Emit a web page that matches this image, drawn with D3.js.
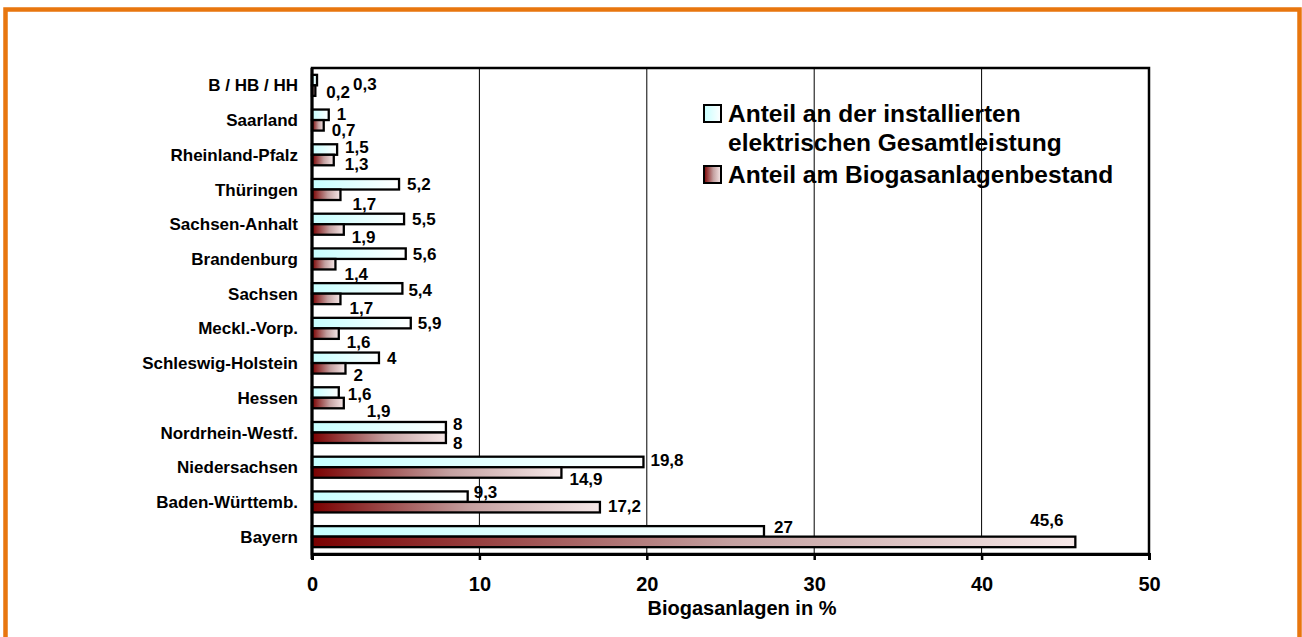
<!DOCTYPE html>
<html>
<head>
<meta charset="utf-8">
<script src="https://cdn.jsdelivr.net/npm/d3@7"></script>
<style>
  html, body { margin: 0; padding: 0; background: #fff; }
  svg { display: block; }
  text { font-family: "Liberation Sans", Arial, sans-serif; font-weight: bold; fill: #000; }
</style>
</head>
<body>
<svg id="chart" width="1302" height="637"></svg>
<script>
// Federal states (top to bottom)
const categories = [
  "B / HB / HH", "Saarland", "Rheinland-Pfalz", "Thüringen", "Sachsen-Anhalt",
  "Brandenburg", "Sachsen", "Meckl.-Vorp.", "Schleswig-Holstein", "Hessen",
  "Nordrhein-Westf.", "Niedersachsen", "Baden-Württemb.", "Bayern"
];
// Share of installed electrical capacity (%)
const shareCapacity = [0.3, 1, 1.5, 5.2, 5.5, 5.6, 5.4, 5.9, 4, 1.6, 8, 19.8, 9.3, 27];
// Share of the number of biogas plants (%)
const sharePlants = [0.2, 0.7, 1.3, 1.7, 1.9, 1.4, 1.7, 1.6, 2, 1.9, 8, 14.9, 17.2, 45.6];
const seriesNames = [
  ["Anteil an der installierten", "elektrischen Gesamtleistung"],
  ["Anteil am Biogasanlagenbestand"]
];
const xTicks = [0, 10, 20, 30, 40, 50];
const xTitle = "Biogasanlagen in %";

// label nudges [dx, dy] in px relative to the bar end / bar centre
const capLabelNudge = [[36,4],[8,-1],[8,-3],[8,0],[8,0],[7,0],[6,1],[7,0],[8,0],[9,1.5],[7,-3],[7,-2],[6,-5],[10,-5]];
const plantLabelNudge = [[11,1],[8,5],[11,4],[12,9],[8,7],[9,10],[9,9],[8,8],[8,6.5],[23,8],[7,5],[8,6],[8,-1],[-45,-22]];

const svg = d3.select("#chart");
const fmt = v => String(v).replace(".", ",");

// gradients
const defs = svg.append("defs");
const gBlue = defs.append("linearGradient").attr("id", "gradBlue").attr("x1", 0).attr("x2", 1).attr("y1", 0).attr("y2", 0);
gBlue.append("stop").attr("offset", "0%").attr("stop-color", "#c6ffff");
gBlue.append("stop").attr("offset", "100%").attr("stop-color", "#ffffff");
const gRed = defs.append("linearGradient").attr("id", "gradRed").attr("x1", 0).attr("x2", 1).attr("y1", 0).attr("y2", 0);
gRed.append("stop").attr("offset", "0%").attr("stop-color", "#7a0000");
gRed.append("stop").attr("offset", "55%").attr("stop-color", "#c4a0a0");
gRed.append("stop").attr("offset", "100%").attr("stop-color", "#f6e8e8");

// orange frame
svg.append("rect").attr("x", 5.5).attr("y", 9.5).attr("width", 1294).attr("height", 700)
  .attr("fill", "none").attr("stroke", "#e8760e").attr("stroke-width", 4.5);

const plotLeft = 312, plotRight = 1149, plotTop = 68, plotBottom = 554;
const x = d3.scaleLinear().domain([0, 50]).range([plotLeft, plotRight]);
const y = d3.scaleBand().domain(categories).range([plotTop, plotBottom]);
const sub = d3.scaleBand().domain(["cap", "plants"]).range([0, y.step()]).paddingOuter(0.65);

// gridlines
svg.append("g").selectAll("line").data(xTicks.slice(1, -1)).join("line")
  .attr("x1", d => x(d)).attr("x2", d => x(d)).attr("y1", plotTop).attr("y2", plotBottom)
  .attr("stroke", "#000").attr("stroke-width", 1);

// bars
const rows = categories.map((c, i) => ({ c, i, cap: shareCapacity[i], plants: sharePlants[i] }));
const gBars = svg.append("g");
gBars.selectAll("rect.cap").data(rows).join("rect").attr("class", "cap")
  .attr("x", x(0)).attr("y", d => y(d.c) + sub("cap"))
  .attr("width", d => x(d.cap) - x(0)).attr("height", sub.bandwidth())
  .attr("fill", "url(#gradBlue)").attr("stroke", "#000").attr("stroke-width", 2.3);
gBars.selectAll("rect.plants").data(rows).join("rect").attr("class", "plants")
  .attr("x", x(0)).attr("y", d => y(d.c) + sub("plants"))
  .attr("width", d => x(d.plants) - x(0)).attr("height", sub.bandwidth())
  .attr("fill", "url(#gradRed)").attr("stroke", "#000").attr("stroke-width", 2.3);

// value labels
const gLab = svg.append("g").attr("font-size", 17);
gLab.selectAll("text.cap").data(rows).join("text").attr("class", "cap")
  .attr("x", d => x(d.cap) + capLabelNudge[d.i][0])
  .attr("y", d => y(d.c) + sub("cap") + sub.bandwidth() / 2 + capLabelNudge[d.i][1])
  .attr("dy", "0.36em").text(d => fmt(d.cap));
gLab.selectAll("text.plants").data(rows).join("text").attr("class", "plants")
  .attr("x", d => x(d.plants) + plantLabelNudge[d.i][0])
  .attr("y", d => y(d.c) + sub("plants") + sub.bandwidth() / 2 + plantLabelNudge[d.i][1])
  .attr("dy", "0.36em").text(d => fmt(d.plants));

// plot frame
svg.append("rect").attr("x", plotLeft).attr("y", plotTop).attr("width", plotRight - plotLeft).attr("height", plotBottom - plotTop)
  .attr("fill", "none").attr("stroke", "#000").attr("stroke-width", 2.5);

// x axis
const xAxis = svg.append("g").attr("transform", `translate(0,${plotBottom})`)
  .call(d3.axisBottom(x).tickValues(xTicks).tickSize(6).tickPadding(17).tickFormat(d => d));
xAxis.select(".domain").attr("stroke", "#000").attr("stroke-width", 3);
xAxis.selectAll(".tick line").attr("stroke", "#000").attr("stroke-width", 2.5);
xAxis.selectAll(".tick text").attr("font-size", 20).attr("font-family", null).attr("fill", "#000");

// y axis (category names)
svg.append("g").selectAll("text").data(categories).join("text")
  .attr("x", 298).attr("y", d => y(d) + y.bandwidth() / 2).attr("dy", "0.36em")
  .attr("text-anchor", "end").attr("font-size", 17).text(d => d);
svg.append("line").attr("x1", plotLeft).attr("x2", plotLeft).attr("y1", plotTop).attr("y2", plotBottom + 5)
  .attr("stroke", "#000").attr("stroke-width", 3);

// axis title
svg.append("text").attr("x", 742).attr("y", 615).attr("text-anchor", "middle")
  .attr("font-size", 20).text(xTitle);

// legend
const legend = svg.append("g");
const legItems = [
  { fill: "url(#gradBlue)", lines: seriesNames[0], y: 105 },
  { fill: "url(#gradRed)", lines: seriesNames[1], y: 166 }
];
legItems.forEach(it => {
  legend.append("rect").attr("x", 704).attr("y", it.y).attr("width", 17).attr("height", 17)
    .attr("fill", it.fill).attr("stroke", "#000").attr("stroke-width", 2);
  it.lines.forEach((ln, k) => {
    legend.append("text").attr("x", 728).attr("y", it.y + 16.5 + k * 29)
      .attr("font-size", 24.5).text(ln);
  });
});
</script>
</body>
</html>
